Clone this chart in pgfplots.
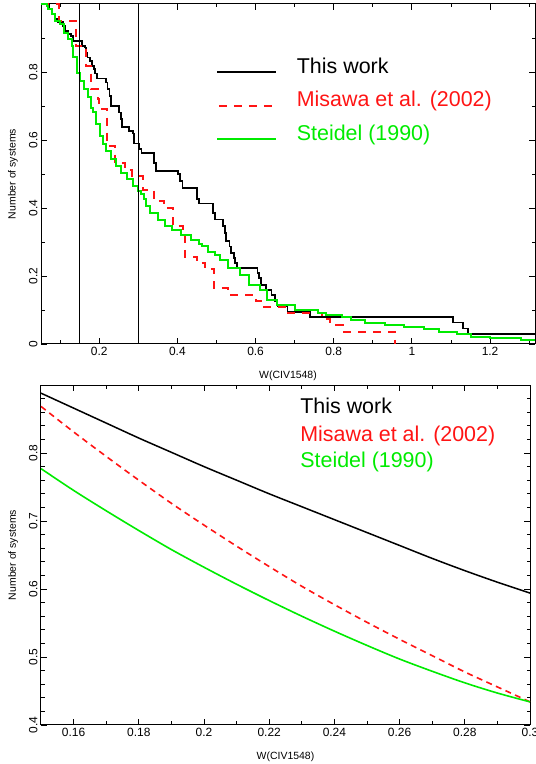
\documentclass[border=0pt]{standalone}
\usepackage{pgfplots}
\pgfplotsset{compat=1.18}
\usepackage{fontspec}
\setmainfont{Liberation Sans}
\definecolor{pgred}{RGB}{255,20,20}
\definecolor{pggreen}{RGB}{0,235,0}
\begin{document}
\begin{tikzpicture}
\path[use as bounding box] (0,0) rectangle (536bp,764bp);
\pgfplotsset{
  every axis/.append style={
    scale only axis,
    /pgf/number format/assume math mode=true,
    tick align=inside,
    xtick pos=both, ytick pos=both,
    major tick length=6bp, minor tick length=3.5bp,
    axis line style={line width=1bp},
    every tick/.style={black, line width=0.8bp},
    tick label style={font=\fontsize{12}{14}\selectfont},
    label style={font=\fontsize{10.5}{12}\selectfont},
    yticklabel style={rotate=90, anchor=south},
  }
}
% ---------------- top panel ----------------
\begin{axis}[
  at={(41bp,420bp)}, anchor=south west,
  width=494bp, height=340bp,
  xmin=0.051, xmax=1.315, ymin=0, ymax=1,
  xtick={0.2,0.4,0.6,0.8,1,1.2},
  xticklabels={0.2,0.4,0.6,0.8,1,1.2},
  minor xtick={0.1,0.3,0.5,0.7,0.9,1.1,1.3},
  ytick={0,0.2,0.4,0.6,0.8},
  yticklabels={0,0.2,0.4,0.6,0.8},
  minor ytick={0.1,0.3,0.5,0.7,0.9},
  xlabel={W(CIV1548)},
  ylabel={Number of systems},
  xlabel style={at={(axis description cs:0.5,-0.094)}, anchor=center},
  ylabel style={at={(axis description cs:-0.057,0.5)}, anchor=center},
]
\addplot[const plot, black, line width=1.7bp] coordinates {
(0.051,1.000) (0.072,0.985) (0.080,0.970) (0.088,0.956) (0.095,0.948)
(0.108,0.935) (0.113,0.921) (0.120,0.911) (0.128,0.906) (0.133,0.892)
(0.156,0.877) (0.163,0.872) (0.166,0.857) (0.170,0.843) (0.176,0.833)
(0.181,0.818) (0.187,0.808) (0.190,0.796) (0.194,0.781) (0.217,0.769)
(0.221,0.749) (0.226,0.730) (0.230,0.700) (0.251,0.681) (0.255,0.661)
(0.258,0.638) (0.276,0.626) (0.286,0.619) (0.289,0.590) (0.301,0.574)
(0.308,0.562) (0.340,0.533) (0.345,0.508) (0.401,0.499) (0.406,0.479)
(0.413,0.459) (0.451,0.427) (0.455,0.413) (0.491,0.386) (0.497,0.366)
(0.517,0.348) (0.521,0.327) (0.525,0.302) (0.533,0.287) (0.538,0.268)
(0.544,0.253) (0.548,0.238) (0.553,0.223) (0.605,0.209) (0.609,0.194)
(0.614,0.174) (0.627,0.159) (0.641,0.145) (0.650,0.125) (0.656,0.110)
(0.682,0.095) (0.740,0.080) (1.106,0.063) (1.131,0.046) (1.144,0.030)
(1.315,0.030)};
\addplot[const plot, pgred, line width=2bp, dash pattern=on 8bp off 7bp] coordinates {
(0.051,1.000) (0.097,0.951) (0.141,0.877) (0.167,0.818) (0.180,0.749)
(0.196,0.720) (0.200,0.692) (0.221,0.582) (0.241,0.533) (0.265,0.511)
(0.283,0.494) (0.311,0.454) (0.341,0.420) (0.365,0.400) (0.388,0.346)
(0.415,0.326) (0.420,0.256) (0.450,0.238) (0.470,0.222) (0.493,0.164)
(0.530,0.145) (0.600,0.125) (0.615,0.110) (0.683,0.090) (0.770,0.073)
(0.790,0.056) (0.823,0.036) (0.957,0.000)};
\addplot[const plot, pggreen, line width=2bp] coordinates {
(0.051,1.000) (0.066,0.995) (0.070,0.985) (0.080,0.971) (0.088,0.951)
(0.100,0.941) (0.110,0.916) (0.120,0.897) (0.131,0.877) (0.134,0.843)
(0.143,0.798) (0.152,0.774) (0.160,0.749) (0.170,0.725) (0.180,0.695)
(0.185,0.681) (0.193,0.646) (0.203,0.612) (0.209,0.587) (0.218,0.567)
(0.230,0.543) (0.243,0.523) (0.256,0.504) (0.270,0.484) (0.287,0.464)
(0.300,0.449) (0.306,0.440) (0.315,0.425) (0.320,0.405) (0.330,0.386)
(0.350,0.366) (0.368,0.346) (0.385,0.334) (0.410,0.322) (0.435,0.307)
(0.455,0.294) (0.463,0.287) (0.478,0.272) (0.495,0.262) (0.510,0.248)
(0.530,0.223) (0.560,0.204) (0.582,0.174) (0.612,0.159) (0.630,0.130)
(0.655,0.115) (0.700,0.100) (0.760,0.091) (0.780,0.086) (0.820,0.080)
(0.845,0.071) (0.880,0.063) (0.930,0.056) (0.980,0.049) (1.030,0.043)
(1.070,0.036) (1.115,0.030) (1.150,0.022) (1.200,0.017) (1.280,0.012)
(1.315,0.012)};
\addplot[black, line width=1.4bp] coordinates {(0.15,0) (0.15,1)};
\addplot[black, line width=1.4bp] coordinates {(0.3,0) (0.3,1)};
% legend
\draw[black, line width=1.8bp] (axis description cs:0.3563,0.799) -- (axis description cs:0.4757,0.799);
\draw[pgred, line width=2.2bp, dash pattern=on 8.5bp off 6.5bp] (axis description cs:0.3603,0.701) -- (axis description cs:0.4757,0.701);
\draw[pggreen, line width=2.2bp] (axis description cs:0.3563,0.602) -- (axis description cs:0.4757,0.602);
\node[anchor=base west, inner sep=0pt, font=\fontsize{21.5}{24}\selectfont, text=black] at (axis description cs:0.5176,0.796) {This work};
\node[anchor=base west, inner sep=0pt, font=\fontsize{21.5}{24}\selectfont, text=pgred] at (axis description cs:0.5176,0.698) {Misawa et al. (2002)};
\node[anchor=base west, inner sep=0pt, font=\fontsize{21.5}{24}\selectfont, text=pggreen] at (axis description cs:0.5176,0.599) {Steidel (1990)};
\end{axis}
% ---------------- bottom panel ----------------
\begin{axis}[
  at={(41bp,39bp)}, anchor=south west,
  width=489bp, height=340bp,
  xmin=0.15, xmax=0.3, ymin=0.4, ymax=0.9,
  xtick={0.16,0.18,0.20,0.22,0.24,0.26,0.28,0.30},
  xticklabels={0.16,0.18,0.2,0.22,0.24,0.26,0.28,0.3},
  minor xtick={0.17,0.19,0.21,0.23,0.25,0.27,0.29},
  ytick={0.4,0.5,0.6,0.7,0.8},
  yticklabels={0.4,0.5,0.6,0.7,0.8},
  minor ytick={0.42,0.44,0.46,0.48,0.52,0.54,0.56,0.58,0.62,0.64,0.66,0.68,0.72,0.74,0.76,0.78,0.82,0.84,0.86,0.88},
  xlabel={W(CIV1548)},
  ylabel={Number of systems},
  xlabel style={at={(axis description cs:0.5,-0.094)}, anchor=center},
  ylabel style={at={(axis description cs:-0.057,0.5)}, anchor=center},
]
\addplot[black, line width=1.5bp, smooth] coordinates {
(0.15,0.888) (0.16,0.866) (0.17,0.844) (0.18,0.822) (0.19,0.801)
(0.20,0.780) (0.21,0.760) (0.22,0.740) (0.23,0.721) (0.24,0.702)
(0.25,0.683) (0.26,0.664) (0.27,0.645) (0.28,0.627) (0.29,0.610)
(0.30,0.594)};
\addplot[pgred, line width=1.6bp, smooth, dash pattern=on 6bp off 4.5bp] coordinates {
(0.15,0.8685) (0.16,0.831) (0.17,0.795) (0.18,0.760) (0.19,0.726)
(0.20,0.694) (0.21,0.663) (0.22,0.633) (0.23,0.604) (0.24,0.577)
(0.25,0.551) (0.26,0.526) (0.27,0.502) (0.28,0.478) (0.29,0.456)
(0.30,0.434)};
\addplot[pggreen, line width=1.6bp, smooth] coordinates {
(0.15,0.777) (0.16,0.745) (0.17,0.715) (0.18,0.686) (0.19,0.658)
(0.20,0.632) (0.21,0.607) (0.22,0.583) (0.23,0.560) (0.24,0.538)
(0.25,0.517) (0.26,0.497) (0.27,0.479) (0.28,0.462) (0.29,0.447)
(0.30,0.434)};
\node[anchor=base west, inner sep=0pt, font=\fontsize{21.5}{24}\selectfont, text=black] at (axis description cs:0.53,0.915) {This work};
\node[anchor=base west, inner sep=0pt, font=\fontsize{21.5}{24}\selectfont, text=pgred] at (axis description cs:0.53,0.835) {Misawa et al. (2002)};
\node[anchor=base west, inner sep=0pt, font=\fontsize{21.5}{24}\selectfont, text=pggreen] at (axis description cs:0.53,0.756) {Steidel (1990)};
\end{axis}
\end{tikzpicture}
\end{document}
